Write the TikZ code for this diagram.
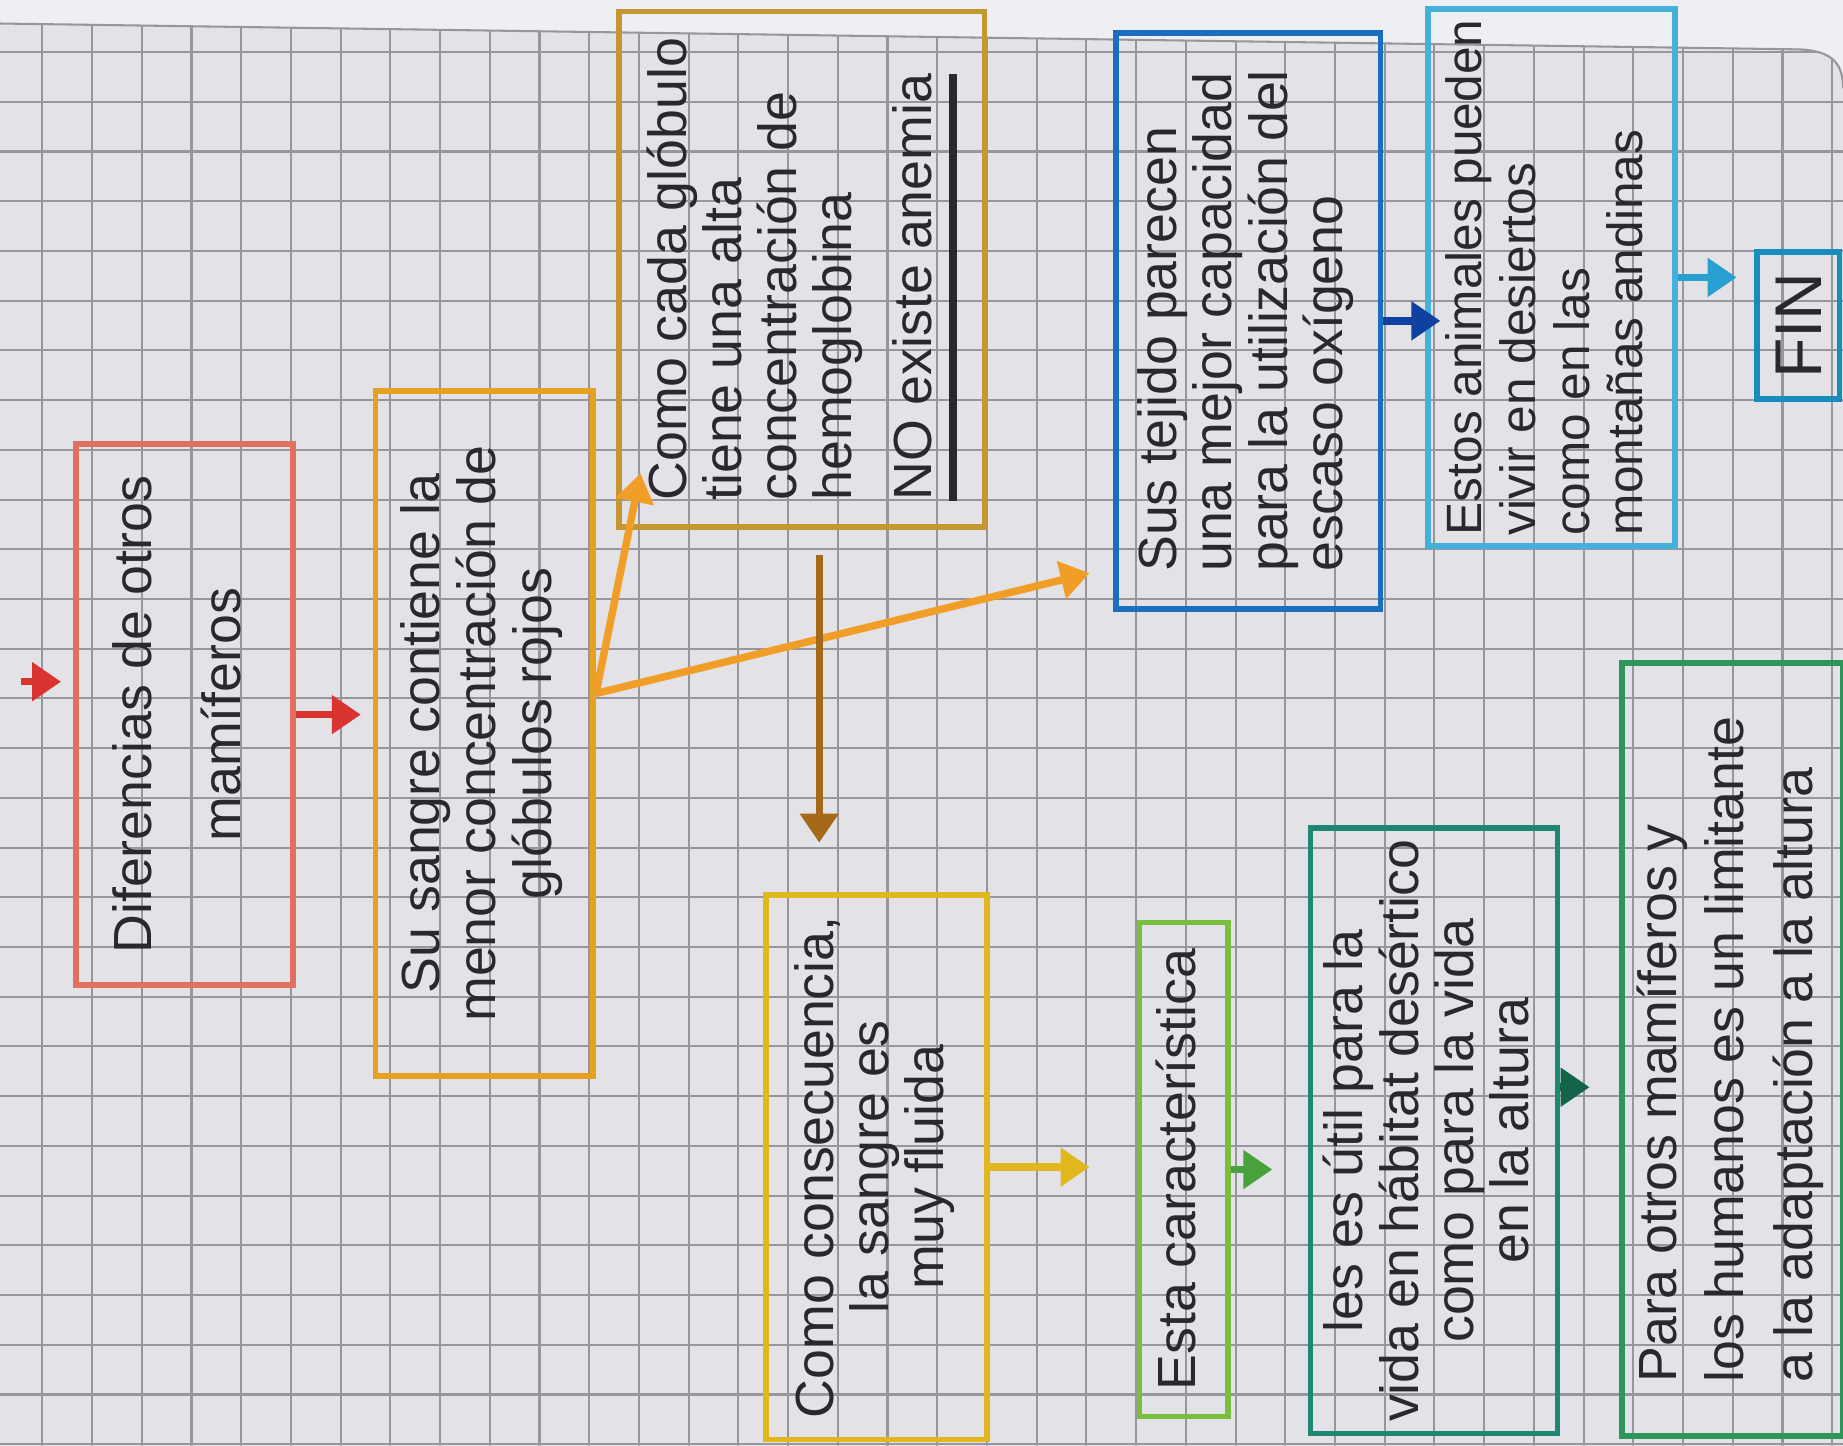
\documentclass[tikz,border=0pt]{standalone}
\usepackage{fontspec}
\setmainfont{Liberation Sans}
\usepackage{graphicx}
\usetikzlibrary{arrows.meta,calc}

\definecolor{hoja}{RGB}{226,226,231}
\definecolor{borde}{RGB}{238,239,243}
\definecolor{linea}{RGB}{150,150,156}
\definecolor{tinta}{RGB}{40,40,46}
\definecolor{rojobox}{RGB}{226,112,96}
\definecolor{rojoflecha}{RGB}{218,52,48}
\definecolor{naranja}{RGB}{232,160,32}
\definecolor{naranjaflecha}{RGB}{240,158,40}
\definecolor{ocre}{RGB}{196,152,48}
\definecolor{cafe}{RGB}{165,105,25}
\definecolor{amarilla}{RGB}{224,184,30}
\definecolor{verdeclaro}{RGB}{122,190,62}
\definecolor{verdeflecha}{RGB}{72,162,60}
\definecolor{teal}{RGB}{30,135,115}
\definecolor{tealflecha}{RGB}{20,100,75}
\definecolor{azul}{RGB}{25,110,190}
\definecolor{azulflecha}{RGB}{15,65,160}
\definecolor{celeste}{RGB}{70,175,220}
\definecolor{celesteflecha}{RGB}{40,160,210}
\definecolor{finazul}{RGB}{25,140,190}
\definecolor{verde}{RGB}{45,150,90}

% text turned a quarter, read from bottom to top
\newcommand{\vtext}[2]{\rotatebox{90}{\begin{tabular}{@{}#1@{}}#2\end{tabular}}}
\newcommand{\subraya}[1]{\setbox0\hbox{#1}\rlap{\rule[-6pt]{\wd0}{1.8pt}}\box0}

\tikzset{
  caja/.style={draw, line width=1.4pt, inner sep=0pt, text=tinta,
    font=\fontsize{13}{13}\selectfont},
  flecha/.style={line width=1.8pt, -{Triangle[width=9pt,length=7pt]}},
  cuadro/.style={linea, line width=0.5pt},
}

\begin{document}
\begin{tikzpicture}[x=0.01cm,y=-0.01cm]
\useasboundingbox (0,0) rectangle (1568,1230);

% papel cuadriculado
\fill[borde] (0,0) rectangle (1568,1230);
\begin{scope}
  \clip (0,20) -- (1530,42) .. controls (1560,43) and (1568,55) .. (1568,75) -- (1568,1230) -- (0,1230) -- cycle;
  \fill[hoja] (0,0) rectangle (1568,1230);
  \foreach \i in {0,...,36} \draw[cuadro] ({36+42.3*\i},0) -- ({36+42.3*\i},1230);
  \foreach \j in {1,...,29} \draw[cuadro] (0,{2+42.3*\j}) -- (1568,{2+42.3*\j});
\end{scope}
\draw[cuadro] (0,20) -- (1530,42) .. controls (1560,43) and (1568,55) .. (1568,75);

% cajas
\node[caja, draw=rojobox, minimum width=1.85cm, minimum height=4.6cm] (dif) at (157,608)
  {\vtext{c}{Diferencias de otros\\[8pt] mamíferos}};
\node[caja, draw=naranja, minimum width=1.85cm, minimum height=5.82cm] (sangre) at (412,624)
  {\vtext{c}{Su sangre contiene la\\ menor concentración de\\ glóbulos rojos}};
\node[caja, draw=ocre, minimum width=3.11cm, minimum height=4.38cm] (glob) at (682,229)
  {\vtext{l}{Como cada glóbulo\\ tiene una alta\\ concentración de\\ hemoglobina\\[6pt] \subraya{NO existe anemia}}};
\node[caja, draw=amarilla, minimum width=1.88cm, minimum height=4.63cm] (cons) at (746,993)
  {\vtext{c}{Como consecuencia,\\ la sangre es\\ muy fluida}};
\node[caja, draw=verdeclaro, minimum width=0.75cm, minimum height=4.2cm] (esta) at (1007,995)
  {\vtext{c}{Esta característica}};
\node[caja, draw=teal, minimum width=2.1cm, minimum height=5.15cm] (util) at (1220,962)
  {\vtext{c}{les es útil para la\\ vida en hábitat desértico\\ como para la vida\\ en la altura}};
\node[caja, draw=azul, minimum width=2.25cm, minimum height=4.9cm] (tej) at (1062,273)
  {\vtext{l}{Sus tejido parecen\\ una mejor capacidad\\ para la utilización del\\ escaso oxígeno}};
\node[caja, draw=celeste, minimum width=2.1cm, minimum height=4.57cm, font=\fontsize{12}{13}\selectfont] (anim) at (1320,236)
  {\vtext{l}{Estos animales pueden\\ vivir en desiertos\\ como en las\\ montañas andinas}};
\node[caja, draw=finazul, minimum width=0.7cm, minimum height=1.25cm, font=\fontsize{16}{16}\selectfont] (fin) at (1530,277)
  {\rotatebox{90}{FIN}};
\node[caja, draw=verde, minimum width=1.88cm, minimum height=6.57cm] (limit) at (1474,893)
  {\vtext{l}{Para otros mamíferos y\\[3pt] los humanos es un limitante\\[3pt] a la adaptación a la altura}};

% flechas
\coordinate (ini) at (18,580);
\coordinate (ini2) at (52,580);
\draw[flecha, rojoflecha] (ini) -- (ini2);
\draw[flecha, rojoflecha, shorten >=1mm] (dif.east) -- (dif.east -| sangre.west);

\coordinate (rama) at ($(sangre.east)+(0,-34)$);
\draw[flecha, naranjaflecha] (rama) -- ($(glob.south west)+(21,-48)$);
\draw[flecha, naranjaflecha] (rama) -- ($(tej.south west)+(-20,-33)$);

\coordinate (bajo) at ($(glob.south)+(15,0)$);
\draw[flecha, cafe, shorten <=2.2mm, shorten >=4.2mm] (bajo) -- (bajo |- cons.north);

\draw[flecha, amarilla, shorten >=4mm] (cons.east) -- (cons.east -| esta.west);
\draw[flecha, verdeflecha, shorten >=3mm] (esta.east) -- (esta.east -| util.west);
\coordinate (u1) at ([yshift=3.7mm]util.east);
\draw[flecha, tealflecha, shorten >=2.5mm] (u1) -- (u1 -| limit.west);

\draw[flecha, azulflecha, shorten >=-1.3mm] (tej.east) -- (tej.east -| anim.west);
\draw[flecha, celesteflecha, shorten >=1.5mm] (anim.east) -- (anim.east -| fin.west);

\end{tikzpicture}
\end{document}
